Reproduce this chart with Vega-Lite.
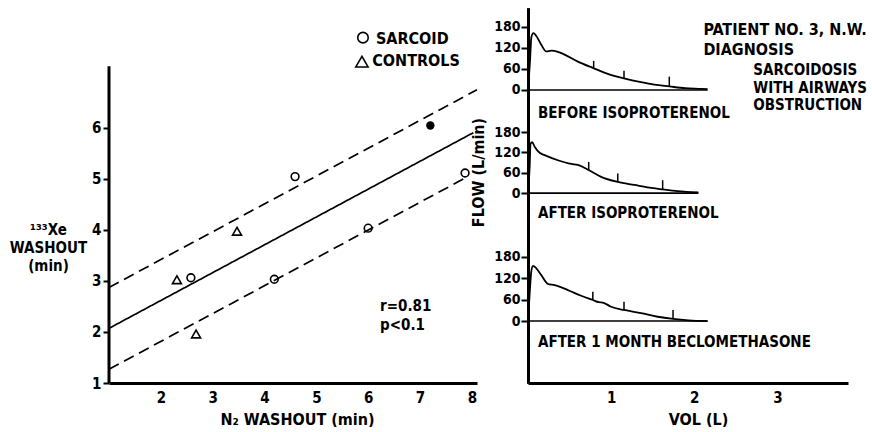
{
  "$schema": "https://vega.github.io/schema/vega-lite/v6.json",
  "padding": {"left": 9, "top": 8, "right": 0, "bottom": 0},
  "spacing": -11,
  "background": "white",
  "config": {
    "view": {"stroke": null},
    "font": "DejaVu Sans Condensed",
    "axis": {
      "grid": false,
      "domainColor": "black",
      "domainWidth": 3,
      "tickColor": "black",
      "tickWidth": 2,
      "labelColor": "black",
      "labelFont": "DejaVu Sans Condensed",
      "labelFontWeight": "bold",
      "labelFontSize": 15,
      "titleColor": "black",
      "titleFont": "DejaVu Sans Condensed",
      "titleFontWeight": "bold",
      "titleFontSize": 16
    },
    "text": {"font": "DejaVu Sans Condensed", "fontWeight": "bold", "color": "black"}
  },
  "datasets": {
    "left_lines": [
      {"n2": 1, "xe": 2.07, "line": "fit", "style": "solid"},
      {"n2": 8.03, "xe": 5.9, "line": "fit", "style": "solid"},
      {"n2": 1, "xe": 2.87, "line": "upper", "style": "dashed"},
      {"n2": 8.1, "xe": 6.74, "line": "upper", "style": "dashed"},
      {"n2": 1, "xe": 1.27, "line": "lower", "style": "dashed"},
      {"n2": 7.85, "xe": 5.0, "line": "lower", "style": "dashed"}
    ],
    "left_points": [
      {"n2": 2.31, "xe": 3.02, "group": "control"},
      {"n2": 2.58, "xe": 3.06, "group": "sarcoid"},
      {"n2": 2.68, "xe": 1.96, "group": "control"},
      {"n2": 3.47, "xe": 3.97, "group": "control"},
      {"n2": 4.59, "xe": 5.04, "group": "sarcoid"},
      {"n2": 4.19, "xe": 3.03, "group": "sarcoid"},
      {"n2": 6.0, "xe": 4.03, "group": "sarcoid"},
      {"n2": 7.2, "xe": 6.04, "group": "patient 3"},
      {"n2": 7.87, "xe": 5.11, "group": "sarcoid"}
    ],
    "left_legend": [
      {"n2": 5.9, "xe": 7.76, "group": "sarcoid"},
      {"n2": 5.88, "xe": 7.29, "group": "control"}
    ],
    "left_text": [
      {"n2": 6.15, "xe": 7.74, "label": "SARCOID", "size": "big"},
      {"n2": 6.08, "xe": 7.31, "label": "CONTROLS", "size": "big"},
      {"n2": 6.23, "xe": 2.5, "label": "r=0.81", "size": "small"},
      {"n2": 6.23, "xe": 2.13, "label": "p<0.1", "size": "small"}
    ],
    "left_axis": [{"n2": 1, "xe": 1, "xe2": 7.2}],
    "curveA": [
      {"vol": 0.0, "flow": 0}, {"vol": 0.025, "flow": 86}, {"vol": 0.04, "flow": 150},
      {"vol": 0.065, "flow": 162}, {"vol": 0.1, "flow": 154}, {"vol": 0.16, "flow": 129},
      {"vol": 0.22, "flow": 110}, {"vol": 0.28, "flow": 112}, {"vol": 0.36, "flow": 109},
      {"vol": 0.44, "flow": 101}, {"vol": 0.6, "flow": 81}, {"vol": 0.78, "flow": 63},
      {"vol": 0.96, "flow": 46}, {"vol": 1.155, "flow": 33}, {"vol": 1.36, "flow": 22},
      {"vol": 1.52, "flow": 15}, {"vol": 1.7, "flow": 10}, {"vol": 1.89, "flow": 5},
      {"vol": 2.09, "flow": 3}, {"vol": 2.16, "flow": 2}
    ],
    "curveB": [
      {"vol": 0.0, "flow": 0}, {"vol": 0.02, "flow": 78}, {"vol": 0.03, "flow": 145},
      {"vol": 0.05, "flow": 150}, {"vol": 0.08, "flow": 137}, {"vol": 0.14, "flow": 119},
      {"vol": 0.2, "flow": 112}, {"vol": 0.36, "flow": 97}, {"vol": 0.52, "flow": 86},
      {"vol": 0.6, "flow": 83}, {"vol": 0.73, "flow": 68}, {"vol": 0.88, "flow": 48},
      {"vol": 1.08, "flow": 33}, {"vol": 1.28, "flow": 24}, {"vol": 1.46, "flow": 16},
      {"vol": 1.62, "flow": 11}, {"vol": 1.8, "flow": 6}, {"vol": 2.05, "flow": 2}
    ],
    "curveC": [
      {"vol": 0.0, "flow": 0}, {"vol": 0.01, "flow": 40}, {"vol": 0.025, "flow": 95},
      {"vol": 0.04, "flow": 140}, {"vol": 0.06, "flow": 155}, {"vol": 0.1, "flow": 148},
      {"vol": 0.16, "flow": 129}, {"vol": 0.24, "flow": 104}, {"vol": 0.32, "flow": 101},
      {"vol": 0.48, "flow": 87}, {"vol": 0.64, "flow": 71}, {"vol": 0.78, "flow": 59},
      {"vol": 0.85, "flow": 53}, {"vol": 0.9, "flow": 52}, {"vol": 1.0, "flow": 40},
      {"vol": 1.155, "flow": 31}, {"vol": 1.36, "flow": 22}, {"vol": 1.56, "flow": 12},
      {"vol": 1.745, "flow": 6}, {"vol": 1.93, "flow": 2}, {"vol": 2.16, "flow": 0}
    ],
    "ticksA": [{"vol": 0.79, "lo": 62, "hi": 83}, {"vol": 1.155, "lo": 33, "hi": 55}, {"vol": 1.7, "lo": 10, "hi": 38}],
    "ticksB": [{"vol": 0.73, "lo": 68, "hi": 92}, {"vol": 1.08, "lo": 33, "hi": 58}, {"vol": 1.62, "lo": 11, "hi": 38}],
    "ticksC": [{"vol": 0.78, "lo": 59, "hi": 82}, {"vol": 1.155, "lo": 31, "hi": 54}, {"vol": 1.745, "lo": 6, "hi": 31}],
    "baseA": [{"vol": 0, "vol2": 2.16, "flow": 0}],
    "baseB": [{"vol": 0, "vol2": 2.05, "flow": 0}],
    "baseC": [{"vol": 0, "vol2": 2.16, "flow": 0}],
    "textA": [
      {"vol": 0.12, "flow": -66, "label": "BEFORE ISOPROTERENOL", "size": "mid"},
      {"vol": 2.11, "flow": 171, "label": "PATIENT NO. 3, N.W.", "size": "big"},
      {"vol": 2.11, "flow": 114, "label": "DIAGNOSIS", "size": "big"},
      {"vol": 2.71, "flow": 57, "label": "SARCOIDOSIS", "size": "mid"},
      {"vol": 2.71, "flow": 6, "label": "WITH AIRWAYS", "size": "mid"},
      {"vol": 2.71, "flow": -43, "label": "OBSTRUCTION", "size": "mid"}
    ],
    "textB": [{"vol": 0.12, "flow": -59, "label": "AFTER ISOPROTERENOL"}],
    "textC": [{"vol": 0.12, "flow": -59, "label": "AFTER 1 MONTH BECLOMETHASONE"}]
  },
  "hconcat": [
    {
      "width": 368,
      "height": 375,
      "encoding": {
        "x": {"field": "n2", "type": "quantitative",
          "scale": {"domain": [1, 8.1], "nice": false, "zero": false},
          "axis": {"values": [2, 3, 4, 5, 6, 7, 8], "ticks": false, "labelPadding": 7, "title": "N₂ WASHOUT (min)",
            "titleX": 188, "titleY": 36, "titleAlign": "center", "titleBaseline": "middle"}},
        "y": {"field": "xe", "type": "quantitative",
          "scale": {"domain": [1, 8.34], "nice": false, "zero": false},
          "axis": {"values": [1, 2, 3, 4, 5, 6], "domain": false, "tickSize": 6, "labelPadding": 2,
            "title": ["¹³³Xe", "WASHOUT", "(min)"], "titleAngle": 0, "titleAlign": "center", "titleBaseline": "middle",
            "titleX": -61, "titleY": 221, "titleLineHeight": 18, "titleFontSize": 15}}
      },
      "layer": [
        {"data": {"name": "left_axis"}, "mark": {"type": "rule", "stroke": "black", "strokeWidth": 3},
          "encoding": {"y2": {"field": "xe2"}}},
        {"data": {"name": "left_lines"}, "mark": {"type": "line", "stroke": "black", "strokeWidth": 1.7},
          "encoding": {"detail": {"field": "line"},
            "strokeDash": {"field": "style", "type": "nominal", "scale": {"domain": ["solid", "dashed"], "range": [[1, 0], [11, 6]]}, "legend": null}}},
        {"data": {"name": "left_points"}, "transform": [{"filter": "datum.group == 'sarcoid'"}],
          "mark": {"type": "point", "shape": "circle", "filled": false, "stroke": "black", "strokeWidth": 1.6, "size": 60, "opacity": 1}},
        {"data": {"name": "left_points"}, "transform": [{"filter": "datum.group == 'control'"}],
          "mark": {"type": "point", "shape": "triangle-up", "filled": false, "stroke": "black", "strokeWidth": 1.6, "size": 80, "opacity": 1}},
        {"data": {"name": "left_points"}, "transform": [{"filter": "datum.group == 'patient 3'"}],
          "mark": {"type": "point", "shape": "circle", "filled": true, "fill": "black", "size": 70, "opacity": 1}},
        {"data": {"name": "left_legend"}, "transform": [{"filter": "datum.group == 'sarcoid'"}],
          "mark": {"type": "point", "shape": "circle", "filled": false, "stroke": "black", "strokeWidth": 1.6, "size": 110, "opacity": 1}},
        {"data": {"name": "left_legend"}, "transform": [{"filter": "datum.group == 'control'"}],
          "mark": {"type": "point", "shape": "triangle-up", "filled": false, "stroke": "black", "strokeWidth": 1.6, "size": 150, "opacity": 1}},
        {"data": {"name": "left_text"}, "transform": [{"filter": "datum.size == 'big'"}],
          "mark": {"type": "text", "align": "left", "baseline": "middle", "fontSize": 16},
          "encoding": {"text": {"field": "label"}}},
        {"data": {"name": "left_text"}, "transform": [{"filter": "datum.size == 'small'"}],
          "mark": {"type": "text", "align": "left", "baseline": "middle", "fontSize": 15},
          "encoding": {"text": {"field": "label"}}}
      ]
    },
    {
      "width": 320,
      "height": 375,
      "resolve": {"scale": {"y": "independent"}, "axis": {"y": "independent"}},
      "layer": [
        {
          "layer": [
            {"data": {"name": "baseA"}, "mark": {"type": "rule", "stroke": "black", "strokeWidth": 1.6},
              "encoding": {
                "x": {"field": "vol", "type": "quantitative", "scale": {"domain": [0, 3.85], "nice": false},
                  "axis": {"values": [1, 2, 3], "format": "d", "ticks": false, "labelPadding": 7, "title": "VOL (L)",
                    "titleX": 170, "titleY": 36, "titleAlign": "center", "titleBaseline": "middle"}},
                "x2": {"field": "vol2"},
                "y": {"field": "flow", "type": "quantitative", "scale": {"domain": [-837, 234], "nice": false, "zero": false},
                  "axis": {"orient": "left", "values": [0, 60, 120, 180], "tickSize": 7, "labelPadding": 1, "labelFontSize": 14, "title": null}}}},
            {"data": {"name": "curveA"}, "mark": {"type": "line", "stroke": "black", "strokeWidth": 1.8, "interpolate": "monotone"},
              "encoding": {"x": {"field": "vol", "type": "quantitative"}, "y": {"field": "flow", "type": "quantitative"}}},
            {"data": {"name": "ticksA"}, "mark": {"type": "rule", "stroke": "black", "strokeWidth": 1.5},
              "encoding": {"x": {"field": "vol", "type": "quantitative"}, "y": {"field": "lo", "type": "quantitative"}, "y2": {"field": "hi"}}},
            {"data": {"name": "textA"}, "transform": [{"filter": "datum.size == 'big'"}],
              "mark": {"type": "text", "align": "left", "baseline": "middle", "fontSize": 16},
              "encoding": {"x": {"field": "vol", "type": "quantitative"}, "y": {"field": "flow", "type": "quantitative"}, "text": {"field": "label"}}},
            {"data": {"name": "textA"}, "transform": [{"filter": "datum.size == 'mid'"}],
              "mark": {"type": "text", "align": "left", "baseline": "middle", "fontSize": 15},
              "encoding": {"x": {"field": "vol", "type": "quantitative"}, "y": {"field": "flow", "type": "quantitative"}, "text": {"field": "label"}}}
          ]
        },
        {
          "layer": [
            {"data": {"name": "baseB"}, "mark": {"type": "rule", "stroke": "black", "strokeWidth": 1.6},
              "encoding": {
                "x": {"field": "vol", "type": "quantitative"},
                "x2": {"field": "vol2"},
                "y": {"field": "flow", "type": "quantitative", "scale": {"domain": [-560, 546], "nice": false, "zero": false},
                  "axis": {"orient": "left", "values": [0, 60, 120, 180], "tickSize": 7, "labelPadding": 1, "labelFontSize": 14,
                    "title": "FLOW (L/min)", "titleX": -50, "titleY": 164, "titleBaseline": "middle", "titleFontSize": 16}}}},
            {"data": {"name": "curveB"}, "mark": {"type": "line", "stroke": "black", "strokeWidth": 1.8, "interpolate": "monotone"},
              "encoding": {"x": {"field": "vol", "type": "quantitative"}, "y": {"field": "flow", "type": "quantitative"}}},
            {"data": {"name": "ticksB"}, "mark": {"type": "rule", "stroke": "black", "strokeWidth": 1.5},
              "encoding": {"x": {"field": "vol", "type": "quantitative"}, "y": {"field": "lo", "type": "quantitative"}, "y2": {"field": "hi"}}},
            {"data": {"name": "textB"}, "mark": {"type": "text", "align": "left", "baseline": "middle", "fontSize": 15},
              "encoding": {"x": {"field": "vol", "type": "quantitative"}, "y": {"field": "flow", "type": "quantitative"}, "text": {"field": "label"}}}
          ]
        },
        {
          "layer": [
            {"data": {"name": "baseC"}, "mark": {"type": "rule", "stroke": "black", "strokeWidth": 1.6},
              "encoding": {
                "x": {"field": "vol", "type": "quantitative"},
                "x2": {"field": "vol2"},
                "y": {"field": "flow", "type": "quantitative", "scale": {"domain": [-174, 879], "nice": false, "zero": false},
                  "axis": {"orient": "left", "values": [0, 60, 120, 180], "tickSize": 7, "labelPadding": 1, "labelFontSize": 14, "title": null}}}},
            {"data": {"name": "curveC"}, "mark": {"type": "line", "stroke": "black", "strokeWidth": 1.8, "interpolate": "monotone"},
              "encoding": {"x": {"field": "vol", "type": "quantitative"}, "y": {"field": "flow", "type": "quantitative"}}},
            {"data": {"name": "ticksC"}, "mark": {"type": "rule", "stroke": "black", "strokeWidth": 1.5},
              "encoding": {"x": {"field": "vol", "type": "quantitative"}, "y": {"field": "lo", "type": "quantitative"}, "y2": {"field": "hi"}}},
            {"data": {"name": "textC"}, "mark": {"type": "text", "align": "left", "baseline": "middle", "fontSize": 15},
              "encoding": {"x": {"field": "vol", "type": "quantitative"}, "y": {"field": "flow", "type": "quantitative"}, "text": {"field": "label"}}}
          ]
        }
      ]
    }
  ]
}
